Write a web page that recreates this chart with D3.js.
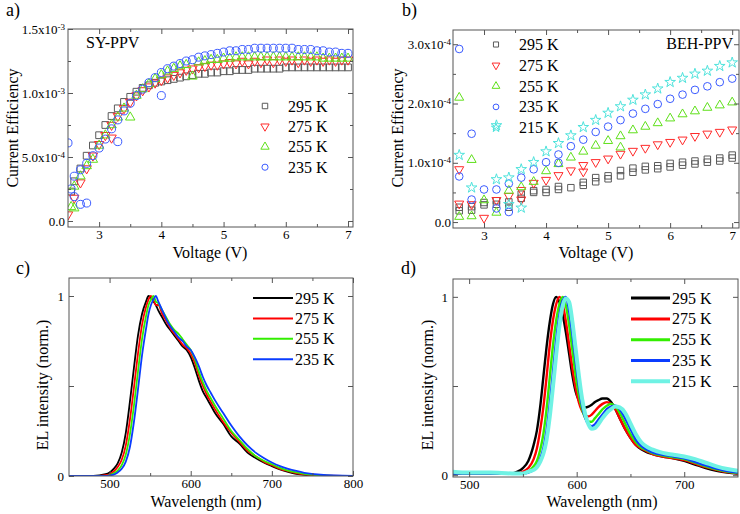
<!DOCTYPE html>
<html><head><meta charset="utf-8">
<script src="https://cdn.jsdelivr.net/npm/d3@7"></script>
<style>body{margin:0;background:#fff}svg{display:block}svg text{font-family:'Liberation Serif','Times New Roman','Tinos','DejaVu Serif','Noto Serif',serif !important;}</style>
</head><body><svg id="fig" width="740" height="514"></svg>
<script>
// ---------------- DATA ----------------
// Panel a (SY-PPV): current efficiency (units of 1e-3) vs voltage (V)
const tempsA = ["295 K","275 K","255 K","235 K"];
const syEff295 = [[2.55,0.23],[2.6,0.31],[2.7,0.41],[2.8,0.51],[2.9,0.59],[3.0,0.67],[3.1,0.75],[3.2,0.82],[3.3,0.88],[3.4,0.93],[3.5,0.97],[3.6,1.01],[3.7,1.04],[3.8,1.06],[3.9,1.08],[4.0,1.09],[4.1,1.10],[4.2,1.11],[4.3,1.12],[4.4,1.13],[4.5,1.14],[4.6,1.15],[4.7,1.15],[4.8,1.16],[4.9,1.16],[5.0,1.17],[5.1,1.17],[5.2,1.18],[5.3,1.18],[5.4,1.18],[5.5,1.19],[5.6,1.19],[5.7,1.19],[5.8,1.19],[5.9,1.19],[6.0,1.20],[6.1,1.20],[6.2,1.20],[6.3,1.20],[6.4,1.20],[6.5,1.20],[6.6,1.20],[6.7,1.20],[6.8,1.20],[6.9,1.20],[7.0,1.20]];
const syEff275 = [[2.5,0.05],[2.6,0.18],[2.7,0.30],[2.8,0.41],[2.9,0.51],[3.0,0.60],[3.1,0.67],[3.2,0.65],[3.2,0.75],[3.3,0.82],[3.4,0.88],[3.5,0.93],[3.6,0.98],[3.7,1.02],[3.8,1.05],[3.9,1.08],[4.0,1.10],[4.1,1.12],[4.2,1.14],[4.3,1.16],[4.4,1.18],[4.5,1.19],[4.6,1.20],[4.7,1.21],[4.8,1.22],[4.9,1.22],[5.0,1.23],[5.1,1.24],[5.2,1.23],[5.3,1.25],[5.4,1.23],[5.5,1.25],[5.6,1.24],[5.7,1.26],[5.8,1.24],[5.9,1.26],[6.0,1.25],[6.1,1.26],[6.2,1.24],[6.3,1.26],[6.4,1.25],[6.5,1.26],[6.6,1.25],[6.7,1.26],[6.8,1.25],[6.9,1.26],[7.0,1.26]];
const syEff255 = [[2.55,0.11],[2.6,0.10],[2.6,0.27],[2.7,0.35],[2.8,0.43],[2.9,0.48],[3.0,0.59],[3.1,0.67],[3.2,0.75],[3.3,0.81],[3.4,0.88],[3.5,0.81],[3.6,0.98],[3.7,1.03],[3.8,1.07],[3.9,1.11],[4.0,1.14],[4.1,1.17],[4.2,1.19],[4.3,1.21],[4.4,1.22],[4.5,1.13],[4.6,1.24],[4.7,1.25],[4.8,1.26],[4.9,1.26],[5.0,1.27],[5.1,1.27],[5.2,1.28],[5.3,1.28],[5.4,1.28],[5.5,1.28],[5.6,1.28],[5.7,1.28],[5.8,1.28],[5.9,1.28],[6.0,1.28],[6.1,1.28],[6.2,1.28],[6.3,1.28],[6.4,1.28],[6.5,1.28],[6.6,1.27],[6.7,1.27],[6.8,1.27],[6.9,1.27],[7.0,1.27]];
const syEff235 = [[2.5,0.61],[2.55,0.25],[2.6,0.19],[2.6,0.35],[2.7,0.13],[2.7,0.40],[2.8,0.14],[2.8,0.45],[2.9,0.51],[3.0,0.57],[3.1,0.64],[3.2,0.72],[3.3,0.62],[3.3,0.79],[3.4,0.86],[3.5,0.92],[3.6,0.98],[3.7,1.03],[3.8,1.08],[3.9,1.12],[4.0,0.98],[4.0,1.16],[4.1,1.19],[4.2,1.21],[4.3,1.23],[4.4,1.25],[4.5,1.26],[4.6,1.28],[4.7,1.29],[4.8,1.30],[4.9,1.31],[5.0,1.32],[5.1,1.33],[5.2,1.33],[5.3,1.34],[5.4,1.34],[5.5,1.35],[5.6,1.35],[5.7,1.35],[5.8,1.35],[5.9,1.35],[6.0,1.35],[6.1,1.35],[6.2,1.34],[6.3,1.34],[6.4,1.34],[6.5,1.33],[6.6,1.33],[6.7,1.32],[6.8,1.32],[6.9,1.31],[7.0,1.31]];

// Panel b (BEH-PPV): current efficiency (units of 1e-4) vs voltage (V)
const tempsB = ["295 K","275 K","255 K","235 K","215 K"];
const behEff295 = [[2.6,0.25],[2.6,0.19],[2.8,0.26],[2.8,0.20],[3.0,0.29],[3.0,0.33],[3.2,0.30],[3.2,0.36],[3.4,0.34],[3.4,0.25],[3.6,0.47],[3.6,0.40],[3.8,0.53],[3.8,0.50],[4.0,0.55],[4.0,0.50],[4.2,0.60],[4.2,0.55],[4.4,0.58],[4.6,0.67],[4.6,0.62],[4.8,0.75],[4.8,0.68],[5.0,0.78],[5.0,0.73],[5.2,0.87],[5.2,0.78],[5.4,0.91],[5.4,0.84],[5.6,0.94],[5.6,0.88],[5.8,0.95],[5.8,0.90],[6.0,0.99],[6.0,0.93],[6.2,1.01],[6.2,0.96],[6.4,1.03],[6.4,0.98],[6.6,1.06],[6.6,1.01],[6.8,1.08],[6.8,1.03],[7.0,1.13],[7.0,1.08]];
const behEff275 = [[2.6,0.89],[2.6,0.31],[2.8,0.30],[3.0,0.07],[3.2,0.37],[3.4,0.44],[3.6,0.38],[3.6,0.54],[3.8,0.66],[4.0,0.71],[4.2,0.79],[4.4,0.87],[4.6,0.96],[4.6,0.85],[4.8,1.01],[5.0,1.07],[5.2,1.15],[5.4,1.20],[5.6,1.25],[5.8,1.31],[6.0,1.35],[6.2,1.39],[6.4,1.45],[6.6,1.49],[6.8,1.52],[7.0,1.56]];
const behEff255 = [[2.6,2.10],[2.6,0.09],[2.8,1.05],[2.8,0.10],[3.0,0.37],[3.2,0.16],[3.4,0.53],[3.6,0.59],[3.8,0.68],[4.0,0.86],[4.2,0.98],[4.4,1.09],[4.6,1.19],[4.8,1.29],[5.0,1.37],[5.2,1.45],[5.2,1.26],[5.4,1.55],[5.6,1.61],[5.8,1.67],[6.0,1.75],[6.2,1.82],[6.4,1.87],[6.6,1.93],[6.8,1.97],[7.0,2.02]];
const behEff235 = [[2.6,2.92],[2.6,0.77],[2.8,1.49],[2.8,0.38],[3.0,0.55],[3.2,0.55],[3.2,0.23],[3.4,0.65],[3.4,0.17],[3.6,0.75],[3.8,0.89],[4.0,1.01],[4.2,1.14],[4.2,1.00],[4.4,1.28],[4.6,1.39],[4.8,1.52],[5.0,1.61],[5.2,1.72],[5.4,1.83],[5.6,1.91],[5.8,1.99],[6.0,2.08],[6.2,2.15],[6.4,2.23],[6.6,2.29],[6.8,2.36],[7.0,2.42]];
const behEff215 = [[2.6,1.13],[2.8,0.58],[3.2,1.63],[3.2,0.72],[3.4,0.75],[3.4,0.30],[3.6,0.89],[3.6,0.24],[3.8,1.01],[4.0,1.19],[4.2,1.33],[4.4,1.46],[4.6,1.60],[4.8,1.72],[5.0,1.84],[5.2,1.95],[5.4,2.06],[5.6,2.15],[5.8,2.25],[6.0,2.36],[6.2,2.43],[6.4,2.50],[6.6,2.55],[6.8,2.63],[7.0,2.69]];

// Panel c (SY-PPV EL spectra)
const wlC = [450,480,495,500,505,510,515,520,525,530,535,540,545,548,551,554,557,560,565,570,575,580,585,590,595,600,605,610,615,620,625,630,640,650,660,670,680,690,700,710,720,730,740,760,800];
const elC295 = [0,0,0.01,0.02,0.04,0.07,0.13,0.24,0.41,0.60,0.78,0.90,0.97,1.00,0.99,0.97,0.95,0.92,0.88,0.84,0.81,0.78,0.75,0.72,0.70,0.66,0.60,0.53,0.47,0.43,0.39,0.35,0.29,0.22,0.18,0.13,0.10,0.075,0.055,0.037,0.023,0.012,0.006,0.002,0];
const elC275 = [0,0,0.005,0.01,0.025,0.05,0.09,0.17,0.31,0.49,0.68,0.84,0.94,0.98,1.00,0.98,0.95,0.95,0.90,0.86,0.82,0.79,0.76,0.73,0.71,0.68,0.63,0.56,0.50,0.45,0.41,0.37,0.30,0.24,0.19,0.14,0.11,0.08,0.06,0.04,0.027,0.016,0.009,0.003,0];
const elC255 = [0,0,0,0.005,0.015,0.03,0.06,0.12,0.23,0.39,0.58,0.76,0.89,0.95,0.98,1.00,0.97,0.96,0.92,0.88,0.84,0.81,0.79,0.76,0.73,0.70,0.65,0.58,0.52,0.47,0.43,0.39,0.32,0.25,0.20,0.15,0.11,0.085,0.065,0.045,0.03,0.02,0.012,0.004,0];
const elC235 = [0,0,0,0.003,0.008,0.02,0.04,0.08,0.16,0.30,0.48,0.67,0.82,0.90,0.95,0.98,1.00,0.97,0.92,0.87,0.83,0.80,0.77,0.75,0.72,0.70,0.66,0.61,0.55,0.50,0.46,0.42,0.35,0.28,0.22,0.17,0.13,0.10,0.075,0.055,0.04,0.028,0.018,0.007,0];

// Panel d (BEH-PPV EL spectra)
const wlD = [485,500,520,540,545,550,555,560,563,566,569,572,575,578,581,584,587,590,593,596,599,602,605,608,611,614,617,620,624,628,632,636,640,645,650,655,660,665,670,680,690,700,710,720,730,740,750];
const elD295 = [0.01,0.01,0.01,0.01,0.02,0.04,0.08,0.17,0.25,0.38,0.55,0.72,0.86,0.96,1.00,0.97,0.90,0.80,0.68,0.56,0.47,0.42,0.39,0.38,0.385,0.395,0.41,0.42,0.43,0.43,0.41,0.37,0.32,0.26,0.21,0.17,0.145,0.13,0.12,0.105,0.095,0.08,0.06,0.04,0.025,0.015,0.01];
const elD275 = [0.01,0.01,0.01,0.01,0.01,0.02,0.04,0.09,0.15,0.25,0.38,0.55,0.73,0.87,0.96,1.00,0.96,0.86,0.73,0.60,0.49,0.41,0.36,0.335,0.33,0.34,0.36,0.38,0.40,0.41,0.40,0.37,0.32,0.26,0.21,0.17,0.15,0.135,0.12,0.105,0.095,0.085,0.065,0.045,0.03,0.017,0.01];
const elD255 = [0.01,0.01,0.01,0.01,0.01,0.01,0.02,0.05,0.08,0.14,0.23,0.37,0.55,0.73,0.87,0.96,1.00,0.95,0.84,0.70,0.56,0.45,0.37,0.32,0.30,0.30,0.32,0.34,0.37,0.39,0.40,0.385,0.35,0.29,0.23,0.185,0.155,0.14,0.125,0.11,0.10,0.09,0.07,0.05,0.033,0.02,0.012];
const elD235 = [0.01,0.01,0.01,0.01,0.01,0.01,0.015,0.03,0.05,0.09,0.15,0.25,0.40,0.58,0.76,0.90,0.98,1.00,0.92,0.79,0.64,0.50,0.39,0.32,0.285,0.275,0.285,0.31,0.34,0.37,0.385,0.39,0.37,0.32,0.26,0.20,0.165,0.145,0.13,0.115,0.105,0.095,0.075,0.055,0.037,0.023,0.015];
const elD215 = [0.02,0.015,0.015,0.01,0.01,0.01,0.02,0.03,0.045,0.075,0.12,0.20,0.33,0.50,0.68,0.84,0.95,0.99,0.97,0.86,0.71,0.56,0.43,0.34,0.285,0.26,0.265,0.285,0.32,0.35,0.37,0.385,0.38,0.35,0.29,0.23,0.185,0.16,0.145,0.125,0.115,0.105,0.09,0.07,0.05,0.035,0.025];

// Tick values and labels
const xTicksAB = [3,4,5,6,7], xMinorAB = [3.5,4.5,5.5,6.5];
const yTicksA = [0,0.5e-3,1.0e-3,1.5e-3], yMinorA = [0.25e-3,0.75e-3,1.25e-3];
const yLabelsA = [["0.0",""],["5.0x10","-4"],["1.0x10","-3"],["1.5x10","-3"]];
const yTicksB = [0,1e-4,2e-4,3e-4], yMinorB = [0.5e-4,1.5e-4,2.5e-4];
const yLabelsB = [["0.0",""],["1.0x10","-4"],["2.0x10","-4"],["3.0x10","-4"]];
const xTicksC = [500,600,700,800], xMinorC = [550,650,750];
const xTicksD = [500,600,700], xMinorD = [550,650];
const yTicksCD = [0,1], yMidCD = [0.5];
const yLabelsCD = [["0",""],["1",""]];

// ---------------- DRAWING ----------------
const serif = "'Liberation Serif','Times New Roman','Tinos','DejaVu Serif','Noto Serif',serif";
const axisColor = '#555';
const col = {"295 K":"#5a5a5a","275 K":"#ff2a2a","255 K":"#5fe01a","235 K":"#3c5cff","215 K":"#4fe3dc"};
const lineCol = {"295 K":"#000000","275 K":"#ff0000","255 K":"#33ee00","235 K":"#0a3cff","215 K":"#6ff2e4"};
const sym = {"295 K":d3.symbolSquare,"275 K":d3.symbolTriangle,"255 K":d3.symbolTriangle,"235 K":d3.symbolCircle,"215 K":d3.symbolStar};
const rot = {"275 K":180};
const svg = d3.select('#fig');
let clipN = 0;

function txt(sel){ return sel.style('font-family',serif); }

function panel(o){
  const x = d3.scaleLinear().domain(o.xDom).range([o.box.l,o.box.r]);
  const y = d3.scaleLinear().domain(o.yDom).range([o.box.b,o.box.t]);
  const id = 'clip'+(clipN++);
  svg.append('clipPath').attr('id',id).append('rect')
    .attr('x',o.box.l).attr('y',o.box.t).attr('width',o.box.r-o.box.l).attr('height',o.box.b-o.box.t);
  const plot = svg.append('g').attr('clip-path',`url(#${id})`);
  const g = svg.append('g');
  const style = (s)=>{s.attr('font-family',null);s.select('.domain').remove();s.selectAll('line').attr('stroke',axisColor).attr('stroke-width',1);
    s.selectAll('text').attr('fill','#000').attr('font-size',13).style('font-family',serif);};
  const b = o.box;
  g.append('g').attr('transform',`translate(0,${b.b})`)
    .call(d3.axisBottom(x).tickValues(o.xTicks).tickSize(-5).tickSizeOuter(0).tickPadding(o.xPad).tickFormat(d3.format('d'))).call(style);
  g.append('g').attr('transform',`translate(0,${b.t})`)
    .call(d3.axisTop(x).tickValues(o.xTicks).tickSize(-5).tickSizeOuter(0).tickFormat('')).call(style);
  g.append('g').attr('transform',`translate(${b.l},0)`)
    .call(d3.axisLeft(y).tickValues(o.yTicks).tickSize(-5).tickSizeOuter(0).tickPadding(o.yPad).tickFormat((d,i)=>o.yLabels[i][0])).call(style)
    .selectAll('.tick text').each(function(d,i){
      const sup = o.yLabels[i][1];
      if(sup){ d3.select(this).append('tspan').attr('font-size',9).attr('dy','-0.45em').text(sup); }
    });
  g.append('g').attr('transform',`translate(${b.r},0)`)
    .call(d3.axisRight(y).tickValues(o.yTicks).tickSize(-5).tickSizeOuter(0).tickFormat('')).call(style);
  const mlen = -3;
  g.append('g').attr('transform',`translate(0,${b.b})`).call(d3.axisBottom(x).tickValues(o.xMinor).tickSize(mlen).tickSizeOuter(0).tickFormat('')).call(style);
  g.append('g').attr('transform',`translate(0,${b.t})`).call(d3.axisTop(x).tickValues(o.xMinor).tickSize(mlen).tickSizeOuter(0).tickFormat('')).call(style);
  g.append('g').attr('transform',`translate(${b.l},0)`).call(d3.axisLeft(y).tickValues(o.yMinor).tickSize(o.yMinorLen||mlen).tickSizeOuter(0).tickFormat('')).call(style);
  g.append('g').attr('transform',`translate(${b.r},0)`).call(d3.axisRight(y).tickValues(o.yMinor).tickSize(o.yMinorLen||mlen).tickSizeOuter(0).tickFormat('')).call(style);
  g.append('rect').attr('x',b.l).attr('y',b.t).attr('width',b.r-b.l).attr('height',b.b-b.t)
    .attr('fill','none').attr('stroke',axisColor).attr('stroke-width',1);
  txt(g.append('text').attr('x',o.xTitleX).attr('y',o.xTitleY).attr('text-anchor','middle')
    .attr('font-size',16)).text(o.xTitle);
  txt(g.append('text').attr('transform',`translate(${o.yTitleX},${o.yTitleY}) rotate(-90)`).attr('text-anchor','middle')
    .attr('font-size',16)).text(o.yTitle);
  txt(g.append('text').attr('x',o.tag[0]).attr('y',o.tag[1]).attr('font-size',18)).text(o.tag[2]);
  return {x,y,plot,g};
}

function scatter(P, temps, series, unit, size){
  temps.forEach((t,k)=>{
    P.plot.selectAll(null).data(series[k]).enter().append('path')
      .attr('d', d3.symbol().type(sym[t]).size(t==="295 K"?size*0.95:(t==="235 K"?size*1.05:size*0.8)))
      .attr('transform', d=>`translate(${P.x(d[0])},${P.y(d[1]*unit)}) rotate(${rot[t]||0})`)
      .attr('fill','none').attr('stroke',col[t]).attr('stroke-width',1);
  });
}
function symLegend(P, temps, sx, tx, y0, dy, size){
  temps.forEach((t,k)=>{
    const by = y0 + k*dy;
    P.g.append('path').attr('d', d3.symbol().type(sym[t]).size(size))
      .attr('transform',`translate(${sx},${by-5.5}) rotate(${rot[t]||0})`)
      .attr('fill','none').attr('stroke',col[t]).attr('stroke-width',1);
    txt(P.g.append('text').attr('x',tx).attr('y',by).attr('font-size',16)).text(t);
  });
}
function lines(P, temps, wl, series, widths){
  temps.forEach((t,k)=>{
    const data = wl.map((w,i)=>[w, series[k][i]]);
    P.plot.append('path').datum(data)
      .attr('d', d3.line().x(d=>P.x(d[0])).y(d=>P.y(d[1])).curve(d3.curveMonotoneX))
      .attr('fill','none').attr('stroke',lineCol[t]).attr('stroke-width',widths[k]).attr('stroke-linejoin','round');
  });
}
function lineLegend(P, temps, x1, x2, tx, y0, dy, widths){
  temps.forEach((t,k)=>{
    const by = y0 + k*dy;
    P.g.append('line').attr('x1',x1).attr('x2',x2).attr('y1',by-5.5).attr('y2',by-5.5)
      .attr('stroke',lineCol[t]).attr('stroke-width',widths[k]);
    txt(P.g.append('text').attr('x',tx).attr('y',by).attr('font-size',16)).text(t);
  });
}

// Panel a
const PA = panel({box:{l:68,r:353,t:29,b:227}, xDom:[2.5,7.08], yDom:[-0.047e-3,1.5e-3],
  xTicks:xTicksAB, xMinor:xMinorAB, yTicks:yTicksA, yMinor:yMinorA, yLabels:yLabelsA, xPad:3, yPad:3,
  xTitle:"Voltage (V)", xTitleX:210, xTitleY:258, yTitle:"Current Efficiency", yTitleX:18, yTitleY:128, tag:[6,16,"a)"]});
scatter(PA, tempsA, [syEff295,syEff275,syEff255,syEff235], 1e-3, 48);
symLegend(PA, tempsA, 265, 288, 111.5, 20.4, 30);
txt(PA.g.append('text').attr('x',86).attr('y',48).attr('font-size',16)).text("SY-PPV");

// Panel b
const PB = panel({box:{l:453,r:739,t:30,b:228}, xDom:[2.5,7.11], yDom:[-0.1e-4,3.24e-4],
  xTicks:xTicksAB, xMinor:xMinorAB, yTicks:yTicksB, yMinor:yMinorB, yLabels:yLabelsB, xPad:3, yPad:2,
  xTitle:"Voltage (V)", xTitleX:596, xTitleY:258, yTitle:"Current Efficiency", yTitleX:403, yTitleY:128, tag:[402,16,"b)"]});
scatter(PB, tempsB, [behEff295,behEff275,behEff255,behEff235,behEff215], 1e-4, 44);
symLegend(PB, tempsB, 496, 519, 50, 20.8, 26);
txt(PB.g.append('text').attr('x',733).attr('y',49).attr('text-anchor','end').attr('font-size',16)).text("BEH-PPV");

// Panel c
const PC = panel({box:{l:69,r:353,t:278,b:476}, xDom:[450,800], yDom:[0,1.1],
  xTicks:xTicksC, xMinor:xMinorC, yTicks:yTicksCD, yMinor:yMidCD, yMinorLen:-5, yLabels:yLabelsCD, xPad:3, yPad:5,
  xTitle:"Wavelength (nm)", xTitleX:206, xTitleY:507, yTitle:"EL intensity (norm.)", yTitleX:48, yTitleY:385, tag:[16,274,"c)"]});
lines(PC, tempsA, wlC, [elC295,elC275,elC255,elC235], [1.8,1.8,1.8,1.8]);
lineLegend(PC, tempsA, 253, 293, 295, 303.5, 20.4, [2,2,2,2]);

// Panel d
const PD = panel({box:{l:453,r:738,t:279,b:477}, xDom:[485,750], yDom:[-0.01,1.1],
  xTicks:xTicksD, xMinor:xMinorD, yTicks:yTicksCD, yMinor:yMidCD, yMinorLen:-5, yLabels:yLabelsCD, xPad:3, yPad:5,
  xTitle:"Wavelength (nm)", xTitleX:602, xTitleY:507, yTitle:"EL intensity (norm.)", yTitleX:433, yTitleY:385, tag:[401,274,"d)"]});
lines(PD, tempsB, wlD, [elD295,elD275,elD255,elD235,elD215], [2.4,2.4,2.4,2.4,4]);
lineLegend(PD, tempsB, 631, 670, 672, 303.6, 20.8, [3,3,3,3,4]);
</script></body></html>
